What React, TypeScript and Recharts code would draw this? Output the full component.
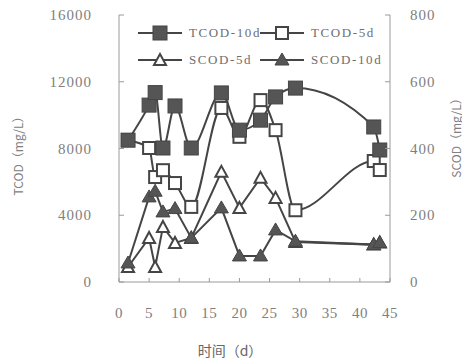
import { ComposedChart, Line, XAxis, YAxis } from 'recharts';

const days = [1.5, 5, 6, 7.3, 9.3, 12, 17, 20, 23.5, 26, 29.3, 42.3, 43.3];
const tcod10 = [8500, 10600, 11350, 8030, 10550, 8030, 11330, 9100, 9700, 11090, 11620, 9290, 7910];
const tcod5 = [8500, 8030, 6290, 6700, 5930, 4500, 10430, 8700, 10900, 9100, 4300, 7250, 6710];
const scod5 = [45, 132, 45, 165, 117, 132, 330, 222, 312, 252, 120, 112, 118];
const scod10 = [57, 255, 272, 210, 220, 132, 222, 78, 78, 156, 122, 112, 118];

const xTicks = [0, 5, 10, 15, 20, 25, 30, 35, 40, 45];
const tcodTicks = [0, 4000, 8000, 12000, 16000];
const scodTicks = [0, 200, 400, 600, 800];

const data = days.map((d, i) => ({
  day: d,
  tcod10: tcod10[i],
  tcod5: tcod5[i],
  scod5: scod5[i],
  scod10: scod10[i],
}));

const INK = '#454545';
const AXIS = '#9a9a9a';
const TXT = '#808080';
const SERIF = '"Liberation Serif", "DejaVu Serif", serif';

const FilledSquare = ({ cx, cy }: any) => (
  <rect x={cx - 7} y={cy - 7} width={14} height={14} fill="#555" stroke={INK} strokeWidth={1} />
);
const OpenSquare = ({ cx, cy }: any) => (
  <rect x={cx - 6} y={cy - 6} width={12} height={12} fill="#fff" stroke={INK} strokeWidth={2} />
);
const FilledTri = ({ cx, cy }: any) => (
  <polygon points={`${cx},${cy - 7} ${cx + 7},${cy + 5} ${cx - 7},${cy + 5}`} fill="#555" stroke={INK} strokeWidth={1} />
);
const OpenTri = ({ cx, cy }: any) => (
  <polygon points={`${cx},${cy - 6} ${cx + 6},${cy + 5} ${cx - 6},${cy + 5}`} fill="#fff" stroke={INK} strokeWidth={2} />
);

const XTick = ({ x, y, payload }: any) => (
  <g>
    <line x1={x} y1={y} x2={x} y2={y - 4} stroke={AXIS} />
    <text x={x} y={y + 36} textAnchor="middle" fill={TXT} fontSize={15} fontFamily={SERIF} letterSpacing={0.5}>
      {payload.value}
    </text>
  </g>
);
const LeftTick = ({ x, y, payload }: any) => (
  <g>
    <line x1={x} y1={y} x2={x + 5} y2={y} stroke={AXIS} />
    <text x={x - 27} y={y + 5} textAnchor="end" fill={TXT} fontSize={15} fontFamily={SERIF} letterSpacing={1}>
      {payload.value}
    </text>
  </g>
);
const RightTick = ({ x, y, payload }: any) => (
  <g>
    <line x1={x} y1={y} x2={x - 5} y2={y} stroke={AXIS} />
    <text x={x + 20} y={y + 5} textAnchor="start" fill={TXT} fontSize={15} fontFamily={SERIF} letterSpacing={1}>
      {payload.value}
    </text>
  </g>
);

function LegendItem({ left, top, label, Marker }: any) {
  return (
    <div style={{ position: 'absolute', left, top, display: 'flex', alignItems: 'center' }}>
      <svg width={46} height={16}>
        <line x1={0} y1={8} x2={44} y2={8} stroke={INK} strokeWidth={2} />
        <Marker cx={22} cy={8} />
      </svg>
      <span style={{ marginLeft: 5, fontFamily: SERIF, fontSize: 13, color: '#6e6e6e', letterSpacing: 1.6 }}>{label}</span>
    </div>
  );
}

export default function App() {
  return (
    <div style={{ position: 'absolute', left: 0, top: 0, width: 462, height: 360, background: '#fff', overflow: 'hidden' }}>
      <ComposedChart width={462} height={360} data={data} margin={{ top: 15, right: 0, bottom: 0, left: 0 }}>
        <XAxis
          dataKey="day"
          type="number"
          domain={[0, 45]}
          ticks={xTicks}
          height={78}
          axisLine={{ stroke: AXIS }}
          tickLine={false}
          tickSize={0}
          tickMargin={0}
          tick={<XTick />}
        />
        <YAxis
          yAxisId="l"
          domain={[0, 16000]}
          ticks={tcodTicks}
          width={119}
          axisLine={{ stroke: AXIS }}
          tickLine={false}
          tickSize={0}
          tickMargin={0}
          tick={<LeftTick />}
        />
        <YAxis
          yAxisId="r"
          orientation="right"
          domain={[0, 800]}
          ticks={scodTicks}
          width={72}
          axisLine={{ stroke: AXIS }}
          tickLine={false}
          tickSize={0}
          tickMargin={0}
          tick={<RightTick />}
        />
        <Line yAxisId="r" dataKey="scod5" type="linear" stroke={INK} strokeWidth={2} dot={<OpenTri />} isAnimationActive={false} />
        <Line yAxisId="r" dataKey="scod10" type="linear" stroke={INK} strokeWidth={2} dot={<FilledTri />} isAnimationActive={false} />
        <Line yAxisId="l" dataKey="tcod5" type="monotone" stroke={INK} strokeWidth={2} dot={<OpenSquare />} isAnimationActive={false} />
        <Line yAxisId="l" dataKey="tcod10" type="monotone" stroke={INK} strokeWidth={2} dot={<FilledSquare />} isAnimationActive={false} />
      </ComposedChart>

      <LegendItem left={138} top={25} label="TCOD-10d" Marker={FilledSquare} />
      <LegendItem left={260} top={25} label="TCOD-5d" Marker={OpenSquare} />
      <LegendItem left={138} top={52} label="SCOD-5d" Marker={OpenTri} />
      <LegendItem left={260} top={52} label="SCOD-10d" Marker={FilledTri} />

      <div
        style={{
          position: 'absolute', left: 17, top: 153, transform: 'translate(-50%, -50%) rotate(-90deg)',
          whiteSpace: 'nowrap', fontFamily: '"Noto Sans CJK SC", serif', fontSize: 12, color: TXT,
        }}
      >
        TCOD（mg/L）
      </div>
      <div
        style={{
          position: 'absolute', left: 455, top: 135, transform: 'translate(-50%, -50%) rotate(-90deg)',
          whiteSpace: 'nowrap', fontFamily: '"Noto Sans CJK SC", serif', fontSize: 12, color: TXT,
        }}
      >
        SCOD（mg/L）
      </div>
      <div
        style={{
          position: 'absolute', left: 230, top: 350, transform: 'translate(-50%, -50%)',
          whiteSpace: 'nowrap', fontFamily: '"Noto Sans CJK SC", serif', fontSize: 14, color: '#666',
        }}
      >
        时间（d）
      </div>
    </div>
  );
}
